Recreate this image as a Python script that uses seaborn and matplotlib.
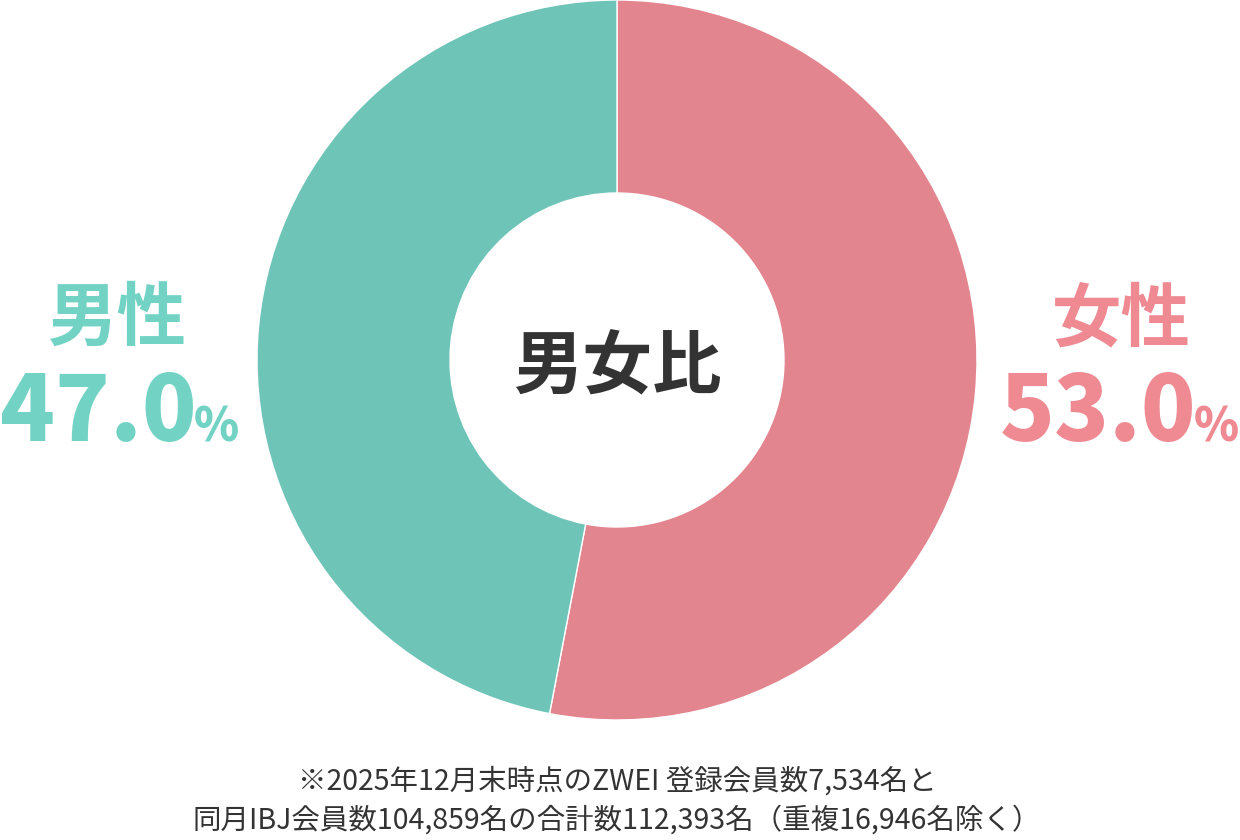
import matplotlib
matplotlib.use('Agg')
import matplotlib.pyplot as plt
import seaborn as sns

# data
labels = ['女性', '男性']
shares = [53.0, 47.0]
wedge_colors = ['#E3858F', '#6FC4B8']
label_colors = ['#EF8A93', '#72D3C4']
center_title = '男女比'
note_lines = ['※2025年12月末時点のZWEI 登録会員数7,534名と',
              '同月IBJ会員数104,859名の合計数112,393名（重複16,946名除く）']

sns.set_theme(style='white')
plt.rcParams['font.family'] = ['Noto Sans CJK JP', 'DejaVu Sans']

fig = plt.figure(figsize=(12.4, 8.4), dpi=100)
ax = fig.add_axes([257/1240, 120/840, 720/1240, 720/840])

ax.pie(shares, colors=wedge_colors, startangle=90, counterclock=False,
       radius=1.0, wedgeprops=dict(width=1 - 167/360, edgecolor='white', linewidth=1))
ax.set_xlim(-1, 1)
ax.set_ylim(-1, 1)
ax.set_aspect('equal')
ax.axis('off')

ax.text(0, -0.02, center_title, ha='center', va='center', fontsize=50,
        fontweight='bold', color='#333333')

# side labels (female right, male left)
lab_pos = {0: 1121, 1: 117}
r = fig.canvas.get_renderer()
for i, (lab, val) in enumerate(zip(labels, shares)):
    fig.text(lab_pos[i]/1240, 1 - 320/840, lab, ha='center', va='center', fontsize=50,
             fontweight='bold', color=label_colors[i])
    num = fig.text(0, 1 - 441/840, f'{val:.1f}', ha='left', va='baseline',
                   fontsize=65, fontweight='black', color=label_colors[i])
    pct = fig.text(0, 1 - 441/840, '%', ha='left', va='baseline',
                   fontsize=33, fontweight='black', color=label_colors[i])
    w_num = num.get_window_extent(r).width
    w_pct = pct.get_window_extent(r).width
    total = w_num - 3 + w_pct
    x0 = 0 if i == 1 else 1239 - total
    num.set_x(x0 / 1240)
    pct.set_x((x0 + w_num - 3) / 1240)

fig.text(617/1240, 1 - 782/840, note_lines[0], ha='center', va='center',
         fontsize=20.5, color='#333333')
fig.text(617/1240, 1 - 821/840, note_lines[1], ha='center', va='center',
         fontsize=20.5, color='#333333')

fig.savefig('out.png', dpi=100, facecolor='white')
